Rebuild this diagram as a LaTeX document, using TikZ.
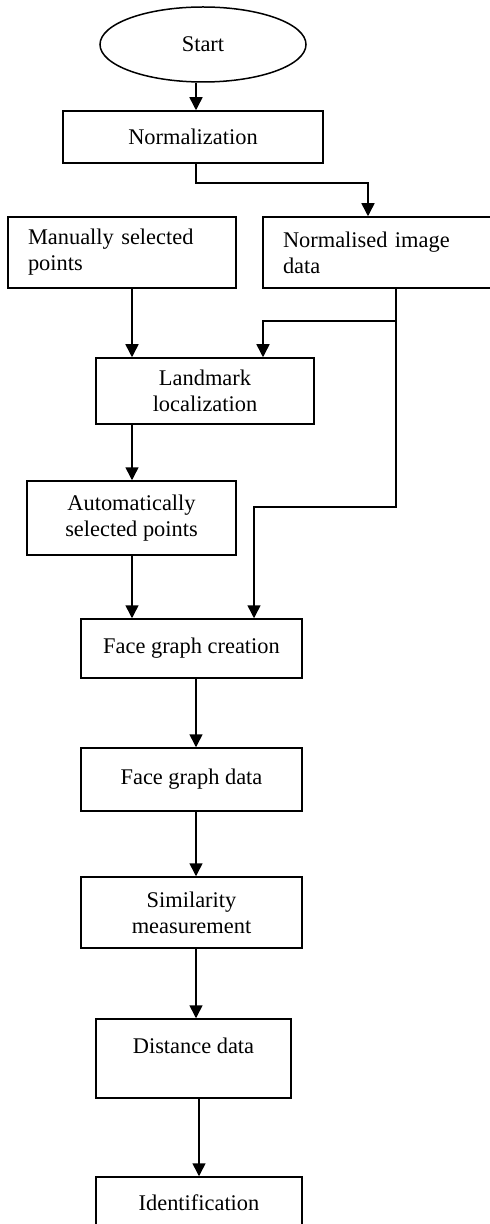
\documentclass[tikz,border=0pt]{standalone}
\usepackage{fontspec}
\setmainfont{Liberation Serif}
\usetikzlibrary{arrows.meta,shapes.geometric}
\begin{document}
\begin{tikzpicture}[x=0.5pt,y=-0.5pt,line width=0.75pt,
  every node/.style={font=\fontsize{11.2}{13}\selectfont},
  box/.style={draw,rectangle,align=center,inner sep=0pt},
  lbox/.style={draw,rectangle,align=left,inner xsep=10pt,inner ysep=0pt},
  arr/.style={-{Triangle[width=6.5pt,length=6.5pt]}}]
\clip (0,0) rectangle (490,1224);
\node[draw,ellipse,minimum width=103pt,minimum height=37.5pt,inner sep=0pt] (start) at (203,44.5) {Start};
\node[box,minimum width=130pt,minimum height=26pt] (norm) at (193,137) {Normalization};
\node[lbox,text width=94pt,minimum height=35.5pt] (manual) at (122,252.5) {Manually selected\\points};
\node[lbox,text width=108.5pt,minimum height=35.5pt] (normdata) at (391.5,252.5) {Normalised image\\data};
\node[box,minimum width=109pt,minimum height=33pt] (landmark) at (205,391) {Landmark\\localization};
\node[box,minimum width=104.5pt,minimum height=37pt] (auto) at (131.5,518) {Automatically\\selected points};
\node[box,minimum width=110.5pt,minimum height=29.5pt] (facegraph) at (191.5,648.5) {Face graph creation};
\node[box,minimum width=110.5pt,minimum height=31.5pt] (facedata) at (191.5,779.5) {Face graph data};
\node[box,minimum width=110.5pt,minimum height=35.5pt] (similarity) at (191.5,912.5) {Similarity\\measurement};
\node[box,minimum width=97.5pt,minimum height=39.5pt] (distance) at (193.5,1058.5) {Distance data\\\mbox{}};
\node[box,minimum width=103pt,minimum height=26pt] (ident) at (199,1203) {Identification};

\coordinate (xa) at (196,0);
\coordinate (xb) at (199,0);
\coordinate (xl) at (132,0);
\coordinate (xr) at (396,0);
\coordinate (k1) at (196,183);
\coordinate (k2) at (368,183);
\coordinate (j1) at (396,321);
\coordinate (j4) at (263,321);
\coordinate (j2) at (396,507);
\coordinate (j3) at (254,507);

\draw[arr] (xa |- start.south) -- (xa |- norm.north);
\draw[arr] (k1 |- norm.south) -- (k1) -- (k2) -- (k2 |- normdata.north);
\draw[arr] (xl |- manual.south) -- (xl |- landmark.north);
\draw[arr] (xr |- normdata.south) -- (j2) -- (j3) -- (j3 |- facegraph.north);
\draw[arr] (j1) -- (j4) -- (j4 |- landmark.north);
\draw[arr] (xl |- landmark.south) -- (xl |- auto.north);
\draw[arr] (xl |- auto.south) -- (xl |- facegraph.north);
\draw[arr] (xa |- facegraph.south) -- (xa |- facedata.north);
\draw[arr] (xa |- facedata.south) -- (xa |- similarity.north);
\draw[arr] (xa |- similarity.south) -- (xa |- distance.north);
\draw[arr] (xb |- distance.south) -- (xb |- ident.north);
\end{tikzpicture}
\end{document}
